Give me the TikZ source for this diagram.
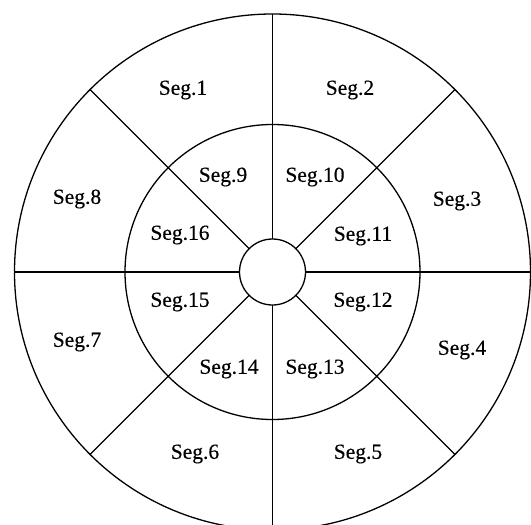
\documentclass[tikz,border=0pt]{standalone}
\usepackage{fontspec}
\setmainfont{Liberation Serif}[FakeBold=0.4]
\begin{document}
\begin{tikzpicture}[x=1pt,y=-1pt,
  ring/.style={draw,circle,inner sep=0pt,outer sep=0pt,line width=1.3pt},
  spoke/.style={line width=1.3pt},
  seglabel/.style={font=\fontsize{21.5}{23}\selectfont,inner sep=0pt}]
\useasboundingbox (0,0) rectangle (531,525);
\node[ring,minimum size=516pt] (outer) at (272.5,272) {};
\node[ring,minimum size=295pt] (inner) at (272.5,272) {};
\node[ring,minimum size=66pt] (hub) at (272.5,272) {};
\foreach \a in {0,45,...,315}
  \draw[spoke] (hub.\a) -- (outer.\a);
\node[seglabel] (s1) at (183,90) {Seg.1};
\node[seglabel] (s2) at (350,90) {Seg.2};
\node[seglabel] (s3) at (457,201) {Seg.3};
\node[seglabel] (s4) at (462,350) {Seg.4};
\node[seglabel] (s5) at (358,454) {Seg.5};
\node[seglabel] (s6) at (195,454) {Seg.6};
\node[seglabel] (s7) at (77,342) {Seg.7};
\node[seglabel] (s8) at (77,199) {Seg.8};
\node[seglabel] (s9) at (223,177) {Seg.9};
\node[seglabel] (s10) at (315,177) {Seg.10};
\node[seglabel] (s11) at (363,236) {Seg.11};
\node[seglabel] (s12) at (363,302) {Seg.12};
\node[seglabel] (s13) at (315,369) {Seg.13};
\node[seglabel] (s14) at (229,369) {Seg.14};
\node[seglabel] (s15) at (180,302) {Seg.15};
\node[seglabel] (s16) at (180,235) {Seg.16};
\end{tikzpicture}
\end{document}
